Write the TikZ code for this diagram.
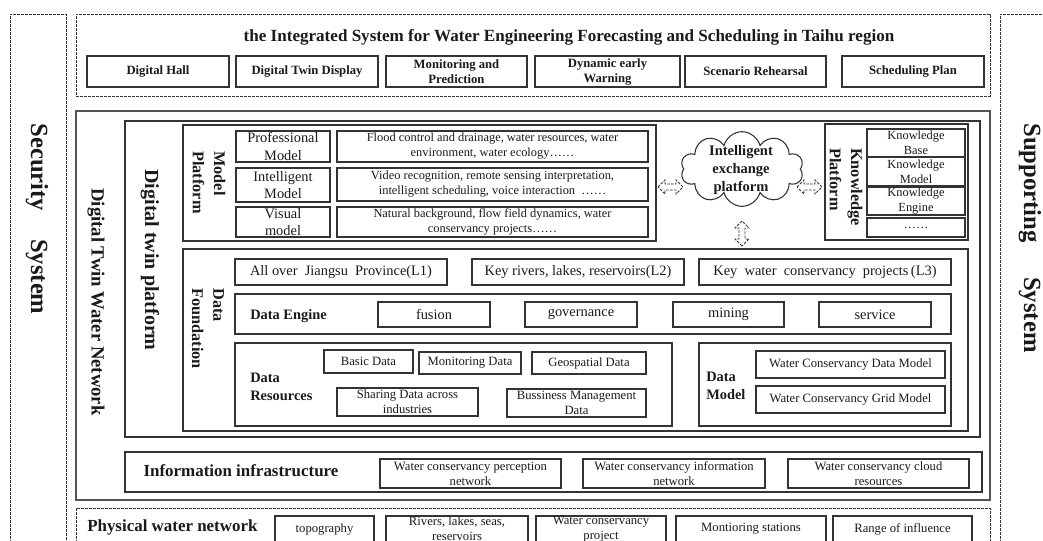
\documentclass[tikz,border=0pt]{standalone}
\usepackage{fontspec}
\setmainfont{Liberation Serif}
\usetikzlibrary{fit,shapes.symbols}
\definecolor{lc}{HTML}{333333}
\definecolor{lg}{HTML}{555555}
\definecolor{tc}{HTML}{1A1A1A}
\tikzset{
 sbox/.style={draw=lc,line width=0.8pt,inner sep=0pt},
 gbox/.style={draw=lg,line width=1.1pt,inner sep=0pt},
 dbox/.style={draw=lc,line width=0.6pt,dash pattern=on 2pt off 1pt,inner sep=0pt},
 txt/.style={text=tc,align=center,inner sep=0pt},
 rot/.style={rotate=-90,anchor=west,align=left},
 fTitle/.style={font=\fontsize{12.8}{15}\selectfont\bfseries},
 fBtn/.style={font=\fontsize{9.5}{11.25}\selectfont\bfseries},
 fSide/.style={font=\fontsize{18.5}{20}\selectfont\bfseries},
 fNet/.style={font=\fontsize{14}{16}\selectfont\bfseries},
 fDtp/.style={font=\fontsize{15}{17}\selectfont\bfseries},
 fPlat/.style={font=\fontsize{12.2}{16}\selectfont\bfseries},
 fMod/.style={font=\fontsize{10.8}{13}\selectfont},
 fDesc/.style={font=\fontsize{9.3}{11.25}\selectfont},
 fCloud/.style={font=\fontsize{10.9}{13.5}\selectfont\bfseries},
 fKn/.style={font=\fontsize{9.3}{11.25}\selectfont},
 fL/.style={font=\fontsize{10.8}{13}\selectfont},
 fLab/.style={font=\fontsize{10.8}{13.5}\selectfont\bfseries},
 fSm/.style={font=\fontsize{9.5}{11.25}\selectfont},
 fBig/.style={font=\fontsize{12.7}{15}\selectfont\bfseries},
 pics/darrow/.style={code={%
   \draw[draw=lc,fill=white,line width=0.6pt,dash pattern=on 2pt off 1pt,line join=miter]
     (-12.5,0) -- (-5.5,-7) -- (-5.5,-3) -- (5.5,-3) -- (5.5,-7) -- (12.5,0)
     -- (5.5,7) -- (5.5,3) -- (-5.5,3) -- (-5.5,7) -- cycle;}},
}
% box with centred text: [box style] {name} {corner} {corner} {text style} {text}
\newcommand\bx[6][sbox]{%
  \node[#1,fit={(#3) (#4)}] (#2) {};
  \node[txt,#5] (#2t) at (#2.center) {#6};}
\begin{document}
\begin{tikzpicture}[x=0.75pt,y=-0.75pt]
\useasboundingbox (0,0) rectangle (1043,540);
\clip (0,0) rectangle (1043,540);

% side systems
\node[dbox,fit={(10,14) (66,560)}] (sec) {};
\node[txt,fSide,rotate=-90] (sect) at (37,219) {Security\hspace{21pt}System};
\node[dbox,fit={(1000,14) (1070,560)}] (sup) {};
\node[txt,fSide,rotate=-90] (supt) at (1030,238) {Supporting\hspace{26pt}System};

% top application layer
\node[dbox,fit={(76,14) (990,96)}] (top) {};
\node[txt,fTitle] (title) at (569,37) {the Integrated System for Water Engineering Forecasting and Scheduling in Taihu region};
\bx{b1}{87,56}{229,87}{fBtn}{Digital Hall}
\bx{b2}{236,56}{378,87}{fBtn}{Digital Twin Display}
\bx{b3}{386,56}{527,87}{fBtn}{Monitoring and\\Prediction}
\bx{b4}{535,56}{680,87}{fBtn}{Dynamic early\\Warning}
\bx{b5}{685,56}{826,87}{fBtn}{Scenario Rehearsal}
\bx{b6}{842,56}{984,87}{fBtn}{Scheduling Plan}

% digital twin water network
\node[gbox,fit={(76,111) (990,500)}] (dtwn) {};
\node[txt,fNet,rotate=-90] (dtwnt) at (96,302) {Digital Twin Water Network};
\node[sbox,fit={(125,121) (980,437)}] (dtp) {};
\node[txt,fDtp,rotate=-90] (dtpt) at (150,260) {Digital twin platform};

% model platform
\node[sbox,fit={(183,125) (656,241)}] (mp) {};
\node[txt,fPlat,rot] (mpt) at (209,151) {Model\\Platform};
\bx{pm}{236,131}{330,162}{fMod}{Professional\\Model}
\bx{im}{236,168}{330,202}{fMod}{Intelligent\\Model}
\bx{vm}{236,207}{330,237}{fMod}{Visual\\model}
\bx{pmd}{337,131}{648,162}{fDesc}{Flood control and drainage, water resources, water\\environment, water ecology……}
\bx{imd}{337,168}{648,201}{fDesc}{Video recognition, remote sensing interpretation,\\intelligent scheduling, voice interaction \ ……}
\bx{vmd}{337,207}{648,237}{fDesc}{Natural background, flow field dynamics, water\\conservancy projects……}

% intelligent exchange platform
\node[cloud,draw=lc,line width=0.8pt,cloud puffs=10,aspect=1.75,minimum width=92pt,minimum height=56pt,inner sep=0pt] (cloud) at (742,169) {};
\node[txt,fCloud] (cloudt) at (741,170) {Intelligent\\exchange\\platform};
\pic (a1) at (670.5,187) {darrow};
\pic (a2) at (809.5,187) {darrow};
\pic[rotate=90] (a3) at (742,233.5) {darrow};

% knowledge platform
\node[sbox,fit={(825,124) (968,240)}] (kp) {};
\node[txt,fPlat,rot] (kpt) at (846,148) {Knowledge\\Platform};
\bx{kb}{867,129}{965,157}{fKn}{Knowledge\\Base}
\bx{km}{867,157}{965,186}{fKn}{Knowledge\\Model}
\bx{ke}{867,187}{965,215}{fKn}{Knowledge\\Engine}
\bx{kd}{867,218}{965,237}{fKn}{……}

% data foundation
\node[sbox,fit={(183,249) (968,431)}] (df) {};
\node[txt,fPlat,rot] (dft) at (208,288) {Data\\Foundation};
\bx{l1}{235,259}{447,285}{fL}{All over \ Jiangsu \ Province(L1)}
\bx{l2}{472,259}{684,285}{fL}{Key rivers, lakes, reservoirs(L2)}
\bx{l3}{699,259}{951,285}{fL}{Key \ water \ conservancy \ projects\,(L3)}
\node[sbox,fit={(235,294) (951,334)}] (de) {};
\node[txt,fLab,anchor=west] (det) at (250,316) {Data Engine};
\bx{fu}{378,302}{490,327}{fL}{fusion}
\bx{go}{525,302}{637,327}{fL}{governance}
\bx{mi}{673,302}{784,327}{fL}{mining}
\bx{se}{819,302}{931,327}{fL}{service}
\node[sbox,fit={(235,343) (672,426)}] (dr) {};
\node[txt,fLab,anchor=west,align=left] (drt) at (250,387) {Data\\Resources};
\bx{bd}{324,350}{413,373}{fSm}{Basic Data}
\bx{mo}{419,352}{521,374}{fSm}{Monitoring Data}
\bx{ge}{532,352}{646,374}{fSm}{Geospatial Data}
\bx{sh}{337,388}{478,416}{fSm}{Sharing Data across\\industries}
\bx{bu}{507,389}{646,417}{fSm}{Bussiness Management\\Data}
\node[sbox,fit={(699,343) (951,426)}] (dm) {};
\node[txt,fLab,anchor=west,align=left] (dmt) at (706,386) {Data\\Model};
\bx{wd}{756,351}{945,378}{fSm}{Water Conservancy Data Model}
\bx{wg}{756,386}{945,413}{fSm}{Water Conservancy Grid Model}

% information infrastructure
\node[sbox,fit={(125,452) (982,492)}] (ii) {};
\node[txt,fBig] (iit) at (241,471) {Information infrastructure};
\bx{ip}{380,459}{561,488}{fSm}{Water conservancy perception\\network}
\bx{in}{583,459}{765,488}{fSm}{Water conservancy information\\network}
\bx{ic}{788,459}{969,488}{fSm}{Water conservancy cloud\\resources}

% physical water network
\node[dbox,fit={(76,508) (990,560)}] (phys) {};
\node[txt,fBig,anchor=west] (physt) at (87,527) {Physical water network};
\bx{topo}{275,516}{374,542}{fSm}{topography}
\bx{riv}{386,516}{528,542}{fSm}{Rivers, lakes, seas,\\reservoirs}
\bx{wcp}{536,516}{666,542}{fSm}{Water conservancy\\project}
\bx{ms}{676,516}{826,542}{fSm}{Montioring stations}
\bx{ri}{833,516}{972,542}{fSm}{Range of influence}
\end{tikzpicture}
\end{document}
